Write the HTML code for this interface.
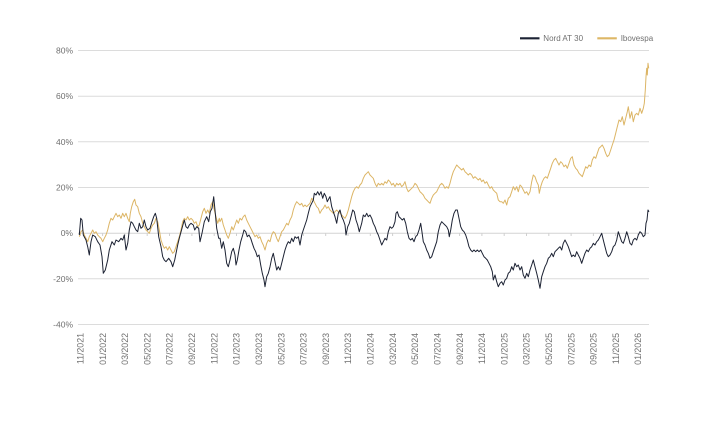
<!DOCTYPE html>
<html>
<head>
<meta charset="utf-8">
<style>
  html,body{margin:0;padding:0;background:#ffffff;}
  body{width:711px;height:427px;overflow:hidden;}
  svg{display:block;}
  text{font-family:"Liberation Sans","DejaVu Sans",sans-serif;fill:#707070;}
</style>
</head>
<body>
<svg width="711" height="427" viewBox="0 0 711 427" xmlns="http://www.w3.org/2000/svg">
  <rect x="0" y="0" width="711" height="427" fill="#ffffff"/>
  <!-- gridlines -->
  <g stroke="#dcdcdc" stroke-width="1" fill="none">
    <line x1="78" y1="50.5" x2="649" y2="50.5"/>
    <line x1="78" y1="96.2" x2="649" y2="96.2"/>
    <line x1="78" y1="141.8" x2="649" y2="141.8"/>
    <line x1="78" y1="187.5" x2="649" y2="187.5"/>
    <line x1="78" y1="278.8" x2="649" y2="278.8"/>
    <line x1="78" y1="324.5" x2="649" y2="324.5"/>
  </g>
  <line x1="78" y1="233.2" x2="649" y2="233.2" stroke="#d4d4d4" stroke-width="1"/>
  <!-- ticks on zero line -->
  <g stroke="#cfcfcf" stroke-width="1">
    <line x1="80.3" y1="233.2" x2="80.3" y2="236"/>
    <line x1="102.6" y1="233.2" x2="102.6" y2="236"/>
    <line x1="124.9" y1="233.2" x2="124.9" y2="236"/>
    <line x1="147.2" y1="233.2" x2="147.2" y2="236"/>
    <line x1="169.5" y1="233.2" x2="169.5" y2="236"/>
    <line x1="191.9" y1="233.2" x2="191.9" y2="236"/>
    <line x1="214.2" y1="233.2" x2="214.2" y2="236"/>
    <line x1="236.5" y1="233.2" x2="236.5" y2="236"/>
    <line x1="258.8" y1="233.2" x2="258.8" y2="236"/>
    <line x1="281.1" y1="233.2" x2="281.1" y2="236"/>
    <line x1="303.4" y1="233.2" x2="303.4" y2="236"/>
    <line x1="325.7" y1="233.2" x2="325.7" y2="236"/>
    <line x1="348.0" y1="233.2" x2="348.0" y2="236"/>
    <line x1="370.3" y1="233.2" x2="370.3" y2="236"/>
    <line x1="392.6" y1="233.2" x2="392.6" y2="236"/>
    <line x1="414.9" y1="233.2" x2="414.9" y2="236"/>
    <line x1="437.3" y1="233.2" x2="437.3" y2="236"/>
    <line x1="459.6" y1="233.2" x2="459.6" y2="236"/>
    <line x1="481.9" y1="233.2" x2="481.9" y2="236"/>
    <line x1="504.2" y1="233.2" x2="504.2" y2="236"/>
    <line x1="526.5" y1="233.2" x2="526.5" y2="236"/>
    <line x1="548.8" y1="233.2" x2="548.8" y2="236"/>
    <line x1="571.1" y1="233.2" x2="571.1" y2="236"/>
    <line x1="593.4" y1="233.2" x2="593.4" y2="236"/>
    <line x1="615.7" y1="233.2" x2="615.7" y2="236"/>
    <line x1="638.0" y1="233.2" x2="638.0" y2="236"/>
  </g>
  <!-- y labels -->
  <g font-size="8.5" text-anchor="end">
    <text x="73" y="53.5">80%</text>
    <text x="73" y="99.2">60%</text>
    <text x="73" y="144.8">40%</text>
    <text x="73" y="190.5">20%</text>
    <text x="73" y="236.2">0%</text>
    <text x="73" y="281.8">-20%</text>
    <text x="73" y="327.5">-40%</text>
  </g>
  <!-- x labels -->
  <g font-size="8.8" text-anchor="end">
    <text transform="translate(83.5,333) rotate(-90)">11/2021</text>
    <text transform="translate(105.8,333) rotate(-90)">01/2022</text>
    <text transform="translate(128.1,333) rotate(-90)">03/2022</text>
    <text transform="translate(150.4,333) rotate(-90)">05/2022</text>
    <text transform="translate(172.7,333) rotate(-90)">07/2022</text>
    <text transform="translate(195.1,333) rotate(-90)">09/2022</text>
    <text transform="translate(217.4,333) rotate(-90)">11/2022</text>
    <text transform="translate(239.7,333) rotate(-90)">01/2023</text>
    <text transform="translate(262.0,333) rotate(-90)">03/2023</text>
    <text transform="translate(284.3,333) rotate(-90)">05/2023</text>
    <text transform="translate(306.6,333) rotate(-90)">07/2023</text>
    <text transform="translate(328.9,333) rotate(-90)">09/2023</text>
    <text transform="translate(351.2,333) rotate(-90)">11/2023</text>
    <text transform="translate(373.5,333) rotate(-90)">01/2024</text>
    <text transform="translate(395.8,333) rotate(-90)">03/2024</text>
    <text transform="translate(418.1,333) rotate(-90)">05/2024</text>
    <text transform="translate(440.5,333) rotate(-90)">07/2024</text>
    <text transform="translate(462.8,333) rotate(-90)">09/2024</text>
    <text transform="translate(485.1,333) rotate(-90)">11/2024</text>
    <text transform="translate(507.4,333) rotate(-90)">01/2025</text>
    <text transform="translate(529.7,333) rotate(-90)">03/2025</text>
    <text transform="translate(552.0,333) rotate(-90)">05/2025</text>
    <text transform="translate(574.3,333) rotate(-90)">07/2025</text>
    <text transform="translate(596.6,333) rotate(-90)">09/2025</text>
    <text transform="translate(618.9,333) rotate(-90)">11/2025</text>
    <text transform="translate(641.2,333) rotate(-90)">01/2026</text>
  </g>
  <!-- legend -->
  <line x1="520" y1="38.3" x2="539.5" y2="38.3" stroke="#1c2233" stroke-width="2.2"/>
  <text x="543.3" y="41.2" font-size="8">Nord AT 30</text>
  <line x1="597.3" y1="38.3" x2="616.8" y2="38.3" stroke="#ddb766" stroke-width="2.2"/>
  <text x="620.7" y="41.2" font-size="8">Ibovespa</text>

  <!-- Ibovespa (gold) -->
  <polyline fill="none" stroke="#dcb565" stroke-width="1" stroke-linejoin="round" points="
79.3,236.7 81,231.7 82.7,230 84.3,235 86,238.3 87.7,241.7 89.3,236.7 91,233.3 92.7,230 94.3,233.3 96,231.7 97.7,235 99.3,236.7 101,238.3 102.7,241.7 104.3,238.3 106,235 107.7,230 109.3,223.3 111,218.3 112.7,220 114.3,216.7 116,213.3 117.7,216.7 119.3,215 121,218.3 122.7,213.3 124.3,216.7 126,213.3 127.7,218.3 129.3,221.7 130.3,213.3 131.7,206.7 133.3,201.7 134.7,199.3 136,205 137.7,206.7 139.3,213.3 141,216.7 142.7,223.3 144.3,226.7 146,230 147.7,231.7 149.3,233.3 151,228.3 152.7,225 154.3,223.3 156,218.3 157.7,221.7 159.3,230 161,240 162.7,245 164.3,248.3 166,246.7 167.7,250 169.3,246.7 171,250 172.7,253.3 174.3,251.7 176,246.7 177.7,241.7 179.3,236.7 181,230 182.7,221.7 184.3,218.3 186,220 187.7,216.7 189.3,220 191,218.3 192.7,220 194.3,223.3 196,221.7 197.7,226.7 199.3,225 201,218.3 202.7,211.7 204.3,208.3 206,213.3 207.7,210 209.3,213.3 211,205 212.7,201.7 214.3,210 216,216.7 217.7,223.3 219.3,218.3
220,221.7 221.7,218.3 223.3,225 225,230 226.7,235 228.3,238.3 230,233.3 231.7,226.7 233.3,230 235,225 236.7,220 238.3,223.3 240,218.3 241.7,220 243.3,216.7 245,215 246.7,220 248.3,223.3 250,226.7 251.7,230 253.3,233.3 255,236.7 256.7,235 258.3,238.3 260,236.7 261.7,241.7 263.3,245 265,250 266.7,243.3 268.3,240 270,241.7 271.7,235 273.3,231.7 275,233.3 276.7,238.3 278.3,241.7 280,236.7 281.7,231.7 283.3,230 285,226.7 286.7,223.3 288.3,225 290,220 291.7,216.7 293.3,210 295,205 296.7,201.7 298.3,203.3 300,205 301.7,203.3 303.3,206.7 305,205 306.7,206.7 308.3,205 310,203.3 311.7,198.3 313.3,200 315,203.3 316.7,206.7 318.3,208.3 320,213.3 321.7,210 323.3,208.3 325,205 326.7,208.3 328.3,206.7 330,210 331.7,211.7 333.3,213.3 335,211.7 336.7,210 338.3,211.7 340,213.3 341.7,215 343.3,216.7 345,218.3 346.7,215 348.3,210 350,203.3 351.7,196.7 353.3,191.7 355,188.3 356.7,186.7 358.3,188.3
360,185 361.7,183 363.3,178.3 365,175 366.7,173.3 368.3,171.7 370,175 371.7,176.7 373.3,178.3 375,183.3 376.7,186.7 378.3,183.3 380,185 381.7,183.3 383.3,185 385,181.7 386.7,183.3 388.3,180 390,181.7 391.7,185 393.3,183.3 395,186.7 396.7,183.3 398.3,185 400,183.3 401.7,186.7 403.3,185 405,181.7 406.7,188.3 408.3,191.7 410,190 411.7,188.3 413.3,186.7 415,183.3 416.7,185 418.3,188.3 420,191.7 421.7,193.3 423.3,195 425,198.3 426.7,200 428.3,201.7 430,203.3 431.7,198.3 433.3,195 435,193.3 436.7,191.7 438.3,188.3 440,185 441.7,183.3 443.3,185 445,188.3 446.7,186.7 448.3,188.3 450,183.3 451.7,176.7 453.3,171.7 455,168.3 456.7,165 458.3,166.7 460,168.3 461.7,170 463.3,168.3 465,171.7 466.7,173.3 468.3,175 470,173.3 471.7,175 473.3,178.3 475,176.7 476.7,178.3 478.3,180 480,178.3 481.7,181.7 483.3,180 485,183.3 486.7,181.7 488.3,185 490,188.3 491.7,186.7 493.3,190 495,191.7 496.7,193.3 498.3,200 500,201.7
501.7,201.7 503.3,203.3 505,200 506.7,205 508.3,198.3 510,196.7 511.7,191.7 513.3,186.7 515,190 516.7,186.7 518.3,191.7 520,185 521.7,186.7 523.3,190 525,193.3 526.7,191.7 528.3,195 530,191.7 531.7,181.7 533.3,175 535,176.7 536.7,181.7 538.3,185 539.3,193.3 540.7,186.7 542.3,181.7 544,178.3 545.7,176.7 547.3,178.3 549,173.3 550.7,168.3 552.3,163.3 554,160 555.7,158.3 557.3,161.7 559,165 560.7,161.7 562.3,163.3 564,166.7 565.7,165 567.3,168.3 569,163.3 570.7,158.3 572.3,156.7 574,165 575.7,168.3 577.3,170 579,173.3 580.7,175 582.3,176.7 584,171.7 585.7,166.7 587.3,168.3 589,165 590.7,166.7 592.3,160 594,156.7 595.7,158.3 597.3,153.3 599,148.3 600.7,146.7 602.3,145 604,148.3 605.7,153.3 607.3,156.7 609,155 610.7,150 612.3,145 614,140 615.7,133.3 617.3,126.7 619,120 620.7,121.7 622.3,116.7 624,125 625.7,118.3 627.3,111.7 628.3,106.7 630,118.3 631.7,111.7 633.3,121.7 635,115 636.7,113.3 638.3,115 640,108.3 641.7,113.3 643.3,108.3 644.3,103.3 645.3,90 646,76.7 646.7,68.3 647.3,75 648,63.3 648.7,68.3"/>

  <!-- Nord AT 30 (dark) -->
  <polyline fill="none" stroke="#1c2233" stroke-width="1" stroke-linejoin="round" points="
79.3,235 80.7,218.3 82,220 83.3,235 86,240 87.7,246.7 89.3,255 91,241.7 92.7,235 95.3,236.7 97.7,241.7 100,245 102,256.7 103.3,273.3 105.3,270 107.7,260 109.3,250 112,241.7 114.3,245 116,240 118.7,241.7 121,238.3 122.7,240 124.3,235 126,250 127.7,243.3 129.3,230 131,221.7 132.7,223.3 134.3,226.7 136,230 137.7,231.7 139.3,223.3 141,228.3 142.7,226.7 144.3,220 146,226.7 147.7,230 150,228.3 152,221.7 153.7,216.7 155.3,213.3 156.7,218.3 158.7,236.7 161,246.7 162.7,256.7 164.3,260 166,261.7 168.7,258.3 171,261.7 172.7,266.7 174.7,260 177.7,245 179.3,238.3 182,228.3 184.3,220 186,226.7 187.7,228.3 189.3,225 191,223.3 193.3,225 194.7,230 196.7,226.7 198.7,228.3 200,241.7 202,233.3 204.3,221.7 206.7,216.7 208.7,221.7 210.3,211.7 212,208.3 213.7,196.7 215.3,213.3 216.7,228.3 218.7,238.3
220,238.3 221.7,248.3 223.3,241.7 225,250 226.7,263.3 228.3,266.7 230,260 231.7,251.7 233.3,248.3 235,255 236,265 237.3,260 239,250 240.7,241.7 242.7,235 244,230 245.7,231.7 247.3,236.7 249,235 250.7,238.3 252.3,243.3 254,248.3 255.7,251.7 257.3,256.7 259,255 260.7,265 262.3,273.3 264,280 265,286.7 266.7,276.7 268.3,273.3 270,266.7 271.7,258.3 273.3,253.3 275,261.7 276.7,270 278.3,266.7 280,270 281.7,263.3 283.3,256.7 285,250 286.7,245 288.3,241.7 290,243.3 291.7,238.3 293.3,241.7 295,236.7 296.7,238.3 298.3,236.7 300,245 301.7,235 303.3,230 305,225 306.7,220 308.3,213.3 310,206.7 311.7,203.3 313.3,200 314.3,193.3 316,195 317.7,191.7 319.3,195 321,191.7 322.7,198.3 324.3,193.3 326,196.7 327.3,201.7 329,198.3 330,196.7 331.7,206.7 333.3,211.7 335,216.7 336.7,223.3 338.3,213.3 340,210 341.7,216.7 343.3,220 345,225 346,235 347.7,226.7 349.3,223.3 351,216.7 352.7,210 354.3,211.7 356,220 357.7,225 359.3,231.7
361.7,223.3 363.3,215 365,216.7 366.7,213.3 368.3,216.7 370,215 371.7,218.3 373.3,223.3 375,226.7 376.7,231.7 378.3,235 380,240 381.7,245 383.3,241.7 385,238.3 386.7,240 388.3,231.7 390,226.7 391.7,228.3 393.3,226.7 395,221.7 396,213.3 397.3,211.7 399,216.7 400.7,218.3 402.3,220 404,218.3 405.7,223.3 407.3,231.7 409,238.3 410.7,240 412.3,238.3 414,241.7 415.7,236.7 417.3,235 419,230 420.7,223.3 421.7,230 423.3,241.7 425,245 426.7,250 428.3,253.3 430,258.3 431.7,256.7 433.3,251.7 435,246.7 436.7,241.7 438.3,231.7 440,225 441.7,221.7 443.3,223.3 445,225 446.7,226.7 448.3,230 449.3,236.7 450.7,230 452.3,220 454,213.3 455.7,210 457.3,210 459,218.3 460.7,226.7 462.3,230 464,231.7 465.7,235 467.3,240 469,246.7 470.7,250 472.3,251.7 474,250 475.7,251.7 477.3,250 479,251.7 480.7,250 482.3,253.3 484,256.7 485.7,258.3 487.3,260 489,263.3 490.7,266.7 492.3,271.7 493.3,280 495,275 496.7,281.7 498.3,286.7 500,283.3
501.7,281.7 503.3,285 505,280 506.7,278.3 508.3,273.3 510,271.7 511.7,266.7 513.3,270 515,263.3 516.7,266.7 518.3,265 520,270 521.7,266.7 523.3,275 525,278.3 526.7,273.3 528.3,276.7 530,270 531.7,265 533.3,260 535,266.7 536.7,273.3 538.3,280 540,288.3 541.7,276.7 543.3,271.7 545,266.7 546.7,263.3 548.3,258.3 550,256.7 551.7,253.3 553.3,256.7 555,251.7 556.7,250 558.3,248.3 560,246.7 561.7,250 563.3,243.3 565,240 566.7,243.3 568.3,246.7 570,251.7 571.7,256.7 573.3,255 575,256.7 576.7,251.7 578.3,255 580,258.3 581.7,263.3 583.3,258.3 585,253.3 586.7,250 588.3,251.7 590,248.3 591.7,246.7 593.3,243.3 595,245 596.7,241.7 598.3,240 600,236.7 601.7,233.3 603.3,240 605,246.7 606.7,253.3 608.3,256.7 610,255 611.7,251.7 613.3,246.7 615,245 616.7,240 618.3,231.7 620,236.7 621.7,241.7 623.3,243.3 625,238.3 626.7,231.7 628.3,236.7 630,243.3 631.7,245 633.3,240 635,238.3 636.7,240 638.3,235 640,231.7 641.7,233.3 643.3,236.7 645,235 646,223.3 647,220 648,210 649,211.7"/>
</svg>
</body>
</html>
